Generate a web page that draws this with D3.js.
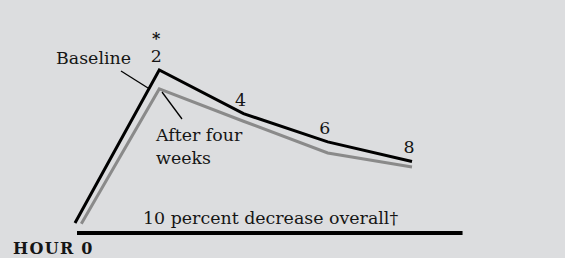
<!DOCTYPE html>
<html>
<head>
<meta charset="utf-8">
<script src="https://cdn.jsdelivr.net/npm/d3@7"></script>
<style>
  html, body { margin: 0; padding: 0; background: #dcdddf; }
  svg { display: block; }
  text { font-family: "DejaVu Serif", serif; fill: #151515; }
</style>
</head>
<body>
<svg id="chart" width="565" height="258"></svg>
<script>
// hours after the dose
const hours = [0, 2, 4, 6, 8];
// gray series starts a hair to the right in the original
const hoursAfter = [0.15, 2, 4, 6, 8];
// relative level, peak of baseline = 100
const baselineValues = [0, 100, 71.5, 53, 40.2];
const afterValues = [-0.5, 87.6, 66.5, 45.8, 36.6];
const pointLabels = ["", "2", "4", "6", "8"];
const footnoteMarks = ["", "*", "", "", ""];
const axisEndHour = 9.2;

const FONT_SIZE = 17.4;

const svg = d3.select("#chart");

let x = d3.scaleLinear().domain([0, 8]).range([75, 412]);
let y = d3.scaleLinear().domain([0, 100]).range([223, 70]);

let line = d3.line()
    .x(d => x(d[0]))
    .y(d => y(d[1]));

// bottom rule
svg.append("line")
    .attr("x1", x(0) + 2)
    .attr("x2", x(axisEndHour))
    .attr("y1", y(0) + 10)
    .attr("y2", y(0) + 10)
    .attr("stroke", "#000")
    .attr("stroke-width", 4);

svg.append("path")
    .datum(d3.zip(hoursAfter, afterValues))
    .attr("fill", "none")
    .attr("stroke", "#8a8a8a")
    .attr("stroke-width", 3)
    .attr("d", line);

svg.append("path")
    .datum(d3.zip(hours, baselineValues))
    .attr("fill", "none")
    .attr("stroke", "#000")
    .attr("stroke-width", 3)
    .attr("d", line);

// hour labels above the baseline points (footnote mark stacked on top)
let labels = svg.selectAll(".hourLabel")
    .data(d3.zip(hours, baselineValues, pointLabels, footnoteMarks).filter(d => d[2] !== ""))
    .enter().append("text")
    .attr("class", "hourLabel")
    .attr("x", d => x(d[0]) - 3)
    .attr("y", d => y(d[1]) - 8)
    .attr("text-anchor", "middle")
    .attr("font-size", FONT_SIZE);

labels.filter(d => d[3] !== "")
    .append("tspan")
    .attr("x", d => x(d[0]) - 3)
    .attr("dy", -18)
    .attr("font-weight", "bold")
    .attr("font-size", 16)
    .text(d => d[3]);

labels.append("tspan")
    .attr("x", d => x(d[0]) - 3)
    .attr("dy", d => d[3] !== "" ? 18 : 0)
    .text(d => d[2]);

// leader lines
svg.append("line")
    .attr("x1", 121).attr("y1", 71)
    .attr("x2", 148).attr("y2", 88)
    .attr("stroke", "#000").attr("stroke-width", 1.3);
svg.append("line")
    .attr("x1", 162).attr("y1", 92)
    .attr("x2", 182).attr("y2", 119)
    .attr("stroke", "#000").attr("stroke-width", 1.3);

svg.append("text")
    .attr("x", 131).attr("y", 64)
    .attr("text-anchor", "end")
    .attr("font-size", FONT_SIZE)
    .text("Baseline");

let after = svg.append("text")
    .attr("x", 156).attr("y", 141)
    .attr("font-size", FONT_SIZE);
after.append("tspan").attr("x", 156).text("After four");
after.append("tspan").attr("x", 156).attr("dy", 23).text("weeks");

svg.append("text")
    .attr("x", 143).attr("y", 224)
    .attr("font-size", FONT_SIZE)
    .text("10 percent decrease overall\u2020");

svg.append("text")
    .attr("x", 13).attr("y", 254)
    .attr("font-size", 16)
    .attr("font-weight", "bold")
    .attr("letter-spacing", 1.3)
    .text("HOUR 0");
</script>
</body>
</html>
